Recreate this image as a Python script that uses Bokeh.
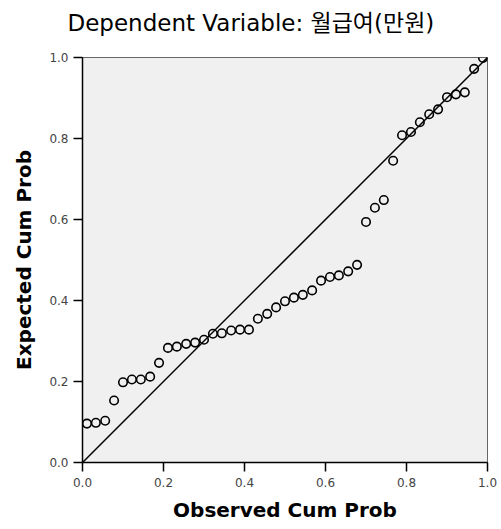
from bokeh.plotting import figure
from bokeh.models import Range1d, FixedTicker, PrintfTickFormatter, Title
from bokeh.embed import file_html
from bokeh.resources import INLINE

# ---- data ----
title_text = "Dependent Variable: 월급여(만원)"
x_label = "Observed Cum Prob"
y_label = "Expected Cum Prob"
tick_values = [0.0, 0.2, 0.4, 0.6, 0.8, 1.0]

observed = [0.011, 0.033, 0.056, 0.078, 0.100, 0.122, 0.144, 0.167, 0.189,
            0.211, 0.233, 0.256, 0.278, 0.300, 0.322, 0.344, 0.367, 0.389,
            0.411, 0.433, 0.456, 0.478, 0.500, 0.522, 0.544, 0.567, 0.589,
            0.611, 0.633, 0.656, 0.678, 0.700, 0.722, 0.744, 0.767, 0.789,
            0.811, 0.833, 0.856, 0.878, 0.900, 0.922, 0.944, 0.967, 0.989]
expected = [0.096, 0.098, 0.103, 0.153, 0.198, 0.205, 0.205, 0.212, 0.246,
            0.283, 0.286, 0.293, 0.296, 0.303, 0.318, 0.319, 0.326, 0.328,
            0.328, 0.355, 0.367, 0.383, 0.398, 0.407, 0.414, 0.425, 0.449,
            0.458, 0.462, 0.472, 0.488, 0.594, 0.629, 0.648, 0.745, 0.808,
            0.816, 0.840, 0.860, 0.872, 0.902, 0.909, 0.914, 0.972, 0.999]
ref_x = [0.0, 1.0]
ref_y = [0.0, 1.0]

FONT = "DejaVu Sans, Noto Sans CJK KR"

p = figure(width=501, height=529, output_backend="svg", toolbar_location=None,
           x_range=Range1d(0, 1), y_range=Range1d(0, 1),
           min_border_left=82, min_border_right=14, min_border_top=57,
           min_border_bottom=67)

p.background_fill_color = "#f0f0f0"
p.border_fill_color = "white"
p.outline_line_color = "#666666"
p.outline_line_width = 1
p.xgrid.visible = False
p.ygrid.visible = False

# spacer between frame and title (closest panel to the frame)
p.add_layout(Title(text=" ", text_font_size="1px", standoff=19), "above")
p.add_layout(Title(text=title_text, text_font=FONT, text_font_size="23px",
                   text_font_style="normal", text_color="black",
                   align="left", offset=-15, vertical_align="bottom",
                   standoff=0), "above")

for ax in (p.xaxis[0], p.yaxis[0]):
    ax.ticker = FixedTicker(ticks=tick_values)
    ax.formatter = PrintfTickFormatter(format="%.1f")
    ax.axis_line_color = "black"
    ax.axis_line_width = 1.5
    ax.major_tick_line_color = "black"
    ax.major_tick_line_width = 1.5
    ax.major_tick_in = 0
    ax.major_tick_out = 9
    ax.minor_tick_line_color = None
    ax.major_label_text_font = FONT
    ax.major_label_text_font_size = "12px"
    ax.major_label_text_color = "#444444"
    ax.axis_label_text_font = FONT
    ax.axis_label_text_font_size = "20px"
    ax.axis_label_text_font_style = "bold"
    ax.axis_label_text_color = "black"

p.xaxis.axis_label = x_label
p.yaxis.axis_label = y_label
p.xaxis.major_label_standoff = 6
p.xaxis.axis_label_standoff = 8
p.yaxis.major_label_standoff = 5
p.yaxis.axis_label_standoff = 10

p.line(ref_x, ref_y, line_color="black", line_width=1.5)
p.scatter(observed, expected, size=8.5, marker="circle", fill_color=None,
          line_color="black", line_width=1.6)

open("out.html", "w").write(file_html(p, INLINE))
